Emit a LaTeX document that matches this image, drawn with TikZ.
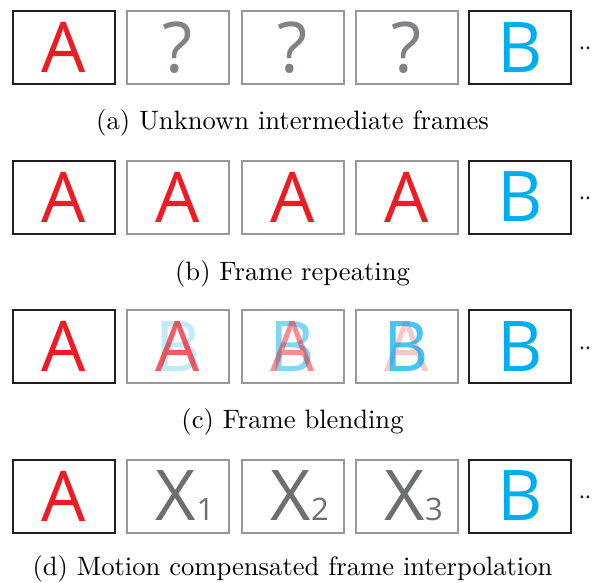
\documentclass[tikz,border=0pt]{standalone}
\usepackage{fontspec}
\newfontfamily\lett{Open Sans}
\newfontfamily\capfont[Extension=.otf]{lmroman10-regular}
\definecolor{fblack}{HTML}{231F20}
\definecolor{fgray}{HTML}{97989B}
\definecolor{ared}{HTML}{ED1C24}
\definecolor{bblue}{HTML}{00AEEF}
\definecolor{qgray}{HTML}{808285}
\definecolor{xgray}{HTML}{6D6E71}
\tikzset{
  keyframe/.style={draw=fblack, line width=2pt, minimum width=102pt, minimum height=73pt, inner sep=0pt},
  midframe/.style={draw=fgray, line width=2pt, minimum width=102pt, minimum height=73pt, inner sep=0pt},
  letter/.style={inner sep=0pt, font=\lett\fontsize{70}{70}\selectfont},
  subdigit/.style={inner sep=0pt, font=\lett\fontsize{31}{31}\selectfont, text=xgray},
  caption/.style={inner sep=0pt, anchor=base, font=\capfont\fontsize{26.6}{30}\selectfont},
  moredots/.style={inner sep=0pt, anchor=base west, font=\lett\fontsize{22}{22}\selectfont, text=fblack}
}
\begin{document}
\begin{tikzpicture}[x=1pt,y=-1pt]
\useasboundingbox (0,0) rectangle (594,583);
% row a
\node[keyframe] (a1) at (64,47.5) {};
\node[midframe] (a2) at (178,47.5) {};
\node[midframe] (a3) at (292.5,47.5) {};
\node[midframe] (a4) at (406.5,47.5) {};
\node[keyframe] (a5) at (520,47.5) {};
\node[letter, text=ared] (a1t) at (a1.center) {A};
\node[letter, text=qgray] (a2t) at (a2.center) {?};
\node[letter, text=qgray] (a3t) at (a3.center) {?};
\node[letter, text=qgray] (a4t) at (a4.center) {?};
\node[letter, text=bblue] (a5t) at (a5.center) {B};
\node[moredots] (adots) at (579,50) {..};
\node[caption] (acap) at (292.5,130) {(a) Unknown intermediate frames};
% row b
\node[keyframe] (b1) at (64,197) {};
\node[midframe] (b2) at (178,197) {};
\node[midframe] (b3) at (292.5,197) {};
\node[midframe] (b4) at (406.5,197) {};
\node[keyframe] (b5) at (520,197) {};
\node[letter, text=ared] (b1t) at (b1.center) {A};
\node[letter, text=ared] (b2t) at (b2.center) {A};
\node[letter, text=ared] (b3t) at (b3.center) {A};
\node[letter, text=ared] (b4t) at (b4.center) {A};
\node[letter, text=bblue] (b5t) at (b5.center) {B};
\node[moredots] (bdots) at (579,199.5) {..};
\node[caption] (bcap) at (292.5,280.5) {(b) Frame repeating};
% row c
\node[keyframe] (c1) at (64,346.5) {};
\node[midframe] (c2) at (178,346.5) {};
\node[midframe] (c3) at (292.5,346.5) {};
\node[midframe] (c4) at (406.5,346.5) {};
\node[keyframe] (c5) at (520,346.5) {};
\node[letter, text=ared] (c1t) at (c1.center) {A};
\node[letter, text=bblue, text opacity=0.25] (c2b) at (c2.center) {B};
\node[letter, text=ared, text opacity=0.72] (c2a) at (c2.center) {A};
\node[letter, text=bblue, text opacity=0.5] (c3b) at (c3.center) {B};
\node[letter, text=ared, text opacity=0.5] (c3a) at (c3.center) {A};
\node[letter, text=ared, text opacity=0.25] (c4a) at (c4.center) {A};
\node[letter, text=bblue, text opacity=0.72] (c4b) at (c4.center) {B};
\node[letter, text=bblue] (c5t) at (c5.center) {B};
\node[moredots] (cdots) at (579,349) {..};
\node[caption] (ccap) at (292.5,428) {(c) Frame blending};
% row d
\node[keyframe] (d1) at (64,496) {};
\node[midframe] (d2) at (178,496) {};
\node[midframe] (d3) at (292.5,496) {};
\node[midframe] (d4) at (406.5,496) {};
\node[keyframe] (d5) at (520,496) {};
\node[letter, text=ared] (d1t) at (d1.center) {A};
\node[letter, text=xgray] (d2x) at ([xshift=-2pt]d2.center) {X};
\node[subdigit, anchor=base west] (d2s) at (d2x.base east) {1};
\node[letter, text=xgray] (d3x) at ([xshift=-2pt]d3.center) {X};
\node[subdigit, anchor=base west] (d3s) at (d3x.base east) {2};
\node[letter, text=xgray] (d4x) at ([xshift=-2pt]d4.center) {X};
\node[subdigit, anchor=base west] (d4s) at (d4x.base east) {3};
\node[letter, text=bblue] (d5t) at (d5.center) {B};
\node[moredots] (ddots) at (579,498.5) {..};
\node[caption] (dcap) at (292.5,575.5) {(d) Motion compensated frame interpolation};
\end{tikzpicture}
\end{document}
